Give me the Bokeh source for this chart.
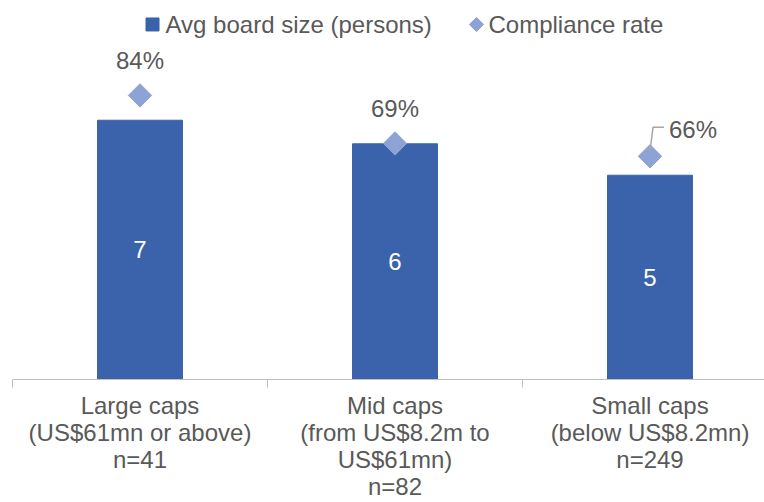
import numpy as np
from bokeh.plotting import figure
from bokeh.models import Range1d, FixedTicker
from bokeh.core.properties import value
from bokeh.embed import file_html
from bokeh.resources import INLINE

# ---------------- data ----------------
categories = [
    "Large caps\n(US$61mn or above)\nn=41",
    "Mid caps\n(from US$8.2m to\nUS$61mn)\nn=82",
    "Small caps\n(below US$8.2mn)\nn=249",
]
board_size = [6.6, 6.0, 5.2]          # avg board size (persons)
compliance = [0.84, 0.698, 0.66]      # compliance rate
series_names = ["Avg board size (persons)", "Compliance rate"]

# ---------------- style ----------------
FONT = "Liberation Sans"
GREY = "#595959"
AXIS_GREY = "#BFBFBF"
BAR_COLOR = "#3B63AB"
DIAMOND_COLOR = "#8EA3D5"
FS = "24px"

W, H = 764, 502
BORDER_L, BORDER_T, BORDER_B = 12, 8, 122
FW, FH = W - BORDER_L, H - BORDER_T - BORDER_B

n = len(categories)
x = np.arange(n) + 0.5
X_END = FW / 255
Y_END = 9.444
PCT_END = 1.097

p = figure(width=W, height=H, output_backend="svg", toolbar_location=None,
           x_range=Range1d(0, X_END), y_range=Range1d(0, Y_END),
           y_axis_location=None,
           min_border_left=BORDER_L, min_border_right=0,
           min_border_top=BORDER_T, min_border_bottom=BORDER_B)
p.extra_y_ranges = {"pct": Range1d(0, PCT_END), "py": Range1d(0, FH)}
p.extra_x_ranges = {"px": Range1d(0, FW)}
p.outline_line_color = None
p.xgrid.visible = False
p.ygrid.visible = False
p.background_fill_color = "white"
p.border_fill_color = "white"

ax = p.xaxis[0]
ax.ticker = FixedTicker(ticks=list(x), minor_ticks=list(range(n + 1)))
ax.major_label_overrides = {float(xi): c for xi, c in zip(x, categories)}
ax.major_tick_line_color = None
ax.major_tick_in = 0
ax.major_tick_out = 0
ax.minor_tick_line_color = AXIS_GREY
ax.minor_tick_in = 0
ax.minor_tick_out = 8
ax.axis_line_color = AXIS_GREY
ax.major_label_text_font = FONT
ax.major_label_text_font_size = FS
ax.major_label_text_color = GREY
ax.major_label_text_line_height = 1.0
ax.major_label_standoff = 4

# bars
p.vbar(x=x, top=board_size, width=1/3, color=BAR_COLOR)
p.text(x=x, y=[v / 2 for v in board_size], text=[f"{round(v)}" for v in board_size],
       text_align="center", text_baseline="middle", text_color="white",
       text_font=value(FONT), text_font_size=FS)

# diamonds
p.scatter(x=x, y=compliance, y_range_name="pct", marker="square", angle=np.pi / 4,
          size=16.5, color=DIAMOND_COLOR)

pct_text = [f"{int(c * 100)}%" for c in compliance]
label_dx = [0, 0, 19]
label_dy = [-35, -35, -27]
label_align = ["center", "center", "left"]
for xi, c, t, dx, dy, al in zip(x, compliance, pct_text, label_dx, label_dy, label_align):
    p.text(x=[xi], y=[c], y_range_name="pct", text=[t], x_offset=dx, y_offset=dy,
           text_align=al, text_baseline="middle", text_color=GREY,
           text_font=value(FONT), text_font_size=FS)

# leader line for the last label (pixel offsets converted to data units)
sx = FW / X_END
sy = FH / PCT_END
lead_px = [(0, -5), (3, -29), (14, -29)]
p.line(x=[x[-1] + dx / sx for dx, dy in lead_px],
       y=[compliance[-1] - dy / sy for dx, dy in lead_px],
       y_range_name="pct", line_color="#A6A6A6", line_width=1.5)

# legend (drawn in pixel space of the frame)
leg_y = FH - 16
p.scatter(x=[140], y=[leg_y], x_range_name="px", y_range_name="py",
          marker="square", size=13, color=BAR_COLOR)
p.scatter(x=[464], y=[leg_y], x_range_name="px", y_range_name="py",
          marker="square", angle=np.pi / 4, size=10, color=DIAMOND_COLOR)
p.text(x=[153, 476], y=[leg_y, leg_y], x_range_name="px", y_range_name="py",
       text=series_names, text_align="left", text_baseline="middle",
       text_color=GREY, text_font=value(FONT), text_font_size=FS)

open("out.html", "w").write(file_html(p, INLINE))
